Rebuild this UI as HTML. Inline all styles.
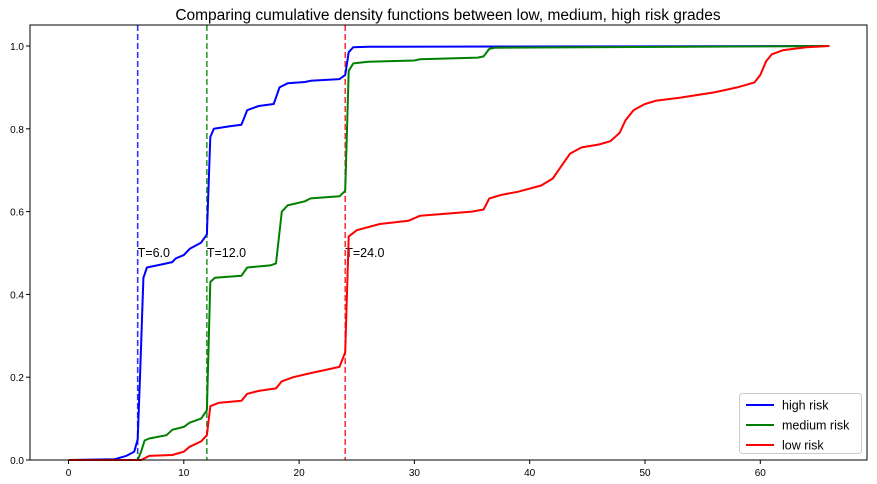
<!DOCTYPE html>
<html><head><meta charset="utf-8"><style>
body{margin:0;background:#fff}
svg{font-family:"Liberation Sans","DejaVu Sans",sans-serif;display:block}
</style></head><body>
<svg id="chart" width="877" height="484"></svg>
<script>
const xTicks=[0,10,20,30,40,50,60];
const yTicks=[0.0,0.2,0.4,0.6,0.8,1.0];
const highX=[0,4,5,5.7,6,6.2,6.5,6.8,8,9,9.3,10,10.5,11.5,12,12.3,12.6,14,15,15.5,16.5,17.8,18.3,19,20.5,21,23.5,24,24.3,24.7,26,66];
const highY=[0,0.002,0.01,0.02,0.05,0.2,0.44,0.465,0.472,0.478,0.487,0.495,0.51,0.525,0.545,0.78,0.8,0.806,0.81,0.845,0.855,0.86,0.9,0.91,0.913,0.916,0.92,0.93,0.985,0.997,0.998,1.0];
const medX=[0,6,6.3,6.6,7,8.5,9,10,10.5,11.5,12,12.3,12.7,15,15.5,17.5,18,18.5,19,20.5,21,23.5,24,24.3,24.7,26,30,30.5,35.5,36,36.5,37,66];
const medY=[0,0,0.02,0.047,0.052,0.06,0.073,0.08,0.09,0.1,0.12,0.43,0.44,0.445,0.465,0.47,0.475,0.6,0.615,0.625,0.632,0.637,0.65,0.94,0.958,0.962,0.965,0.968,0.972,0.975,0.993,0.996,1.0];
const lowX=[0,6.3,7,9,10,10.5,11.5,12,12.3,13,15,15.5,16.5,18,18.5,19.5,21,23.5,24,24.3,25,27,29.5,30.5,35,36,36.5,37.5,39,41,42,42.5,43.5,44.5,46,47,47.8,48.3,49,50,51,53,56,58,59.5,60,60.5,61,62,64,66];
const lowY=[0,0,0.01,0.012,0.02,0.032,0.045,0.06,0.13,0.138,0.143,0.16,0.167,0.173,0.19,0.2,0.21,0.225,0.26,0.54,0.555,0.57,0.578,0.59,0.6,0.605,0.632,0.64,0.648,0.663,0.68,0.7,0.74,0.755,0.762,0.77,0.79,0.82,0.845,0.86,0.868,0.875,0.888,0.9,0.912,0.93,0.963,0.98,0.99,0.997,1.0];
const thresholds=[6,12,24];
const thrLabels=["T=6.0","T=12.0","T=24.0"];
const colors=["#0000ff","#008000","#ff0000"];
const threshColors=["#3333ff","#339933","#ff3333"];
const legendLabels=["high risk","medium risk","low risk"];

const L=30,R=867,T=25,B=460;
const xs=v=>68.5+v*11.53;
const ys=v=>460-v*414;
const svg=document.getElementById('chart');
const NS='http://www.w3.org/2000/svg';
function mk(t,a,p){const e=document.createElementNS(NS,t);for(const k in a)e.setAttribute(k,a[k]);(p||svg).appendChild(e);return e;}

const title=mk('text',{x:448,y:20,'text-anchor':'middle','font-size':15.5,fill:'#000'});
title.textContent='Comparing cumulative density functions between low, medium, high risk grades';



xTicks.forEach(v=>{
  const x=xs(v);
  const tk=mk('line',{x1:x,x2:x,y1:B,y2:B+4,stroke:'#000'});
  
  
  const t=mk('text',{x:x,y:B+16,'text-anchor':'middle','font-size':10,fill:'#000'});
  t.textContent=v;
  
  
});
yTicks.forEach(v=>{
  const y=ys(v);
  const tk=mk('line',{x1:L-4,x2:L,y1:y,y2:y,stroke:'#000'});
  
  
  const t=mk('text',{x:L-6,y:y+4,'text-anchor':'end','font-size':10,fill:'#000'});
  t.textContent=v.toFixed(1);
  
  
});

thresholds.forEach((v,i)=>{
  const x=xs(v);
  const l=mk('line',{x1:x,x2:x,y1:T,y2:B,stroke:threshColors[i],'stroke-width':1.6,'stroke-dasharray':'6,3'});
  
  
  const t=mk('text',{x:x,y:ys(0.5)+4,'font-size':12.5,fill:'#000'});
  t.textContent=thrLabels[i];
  
  
});

[[highX,highY],[medX,medY],[lowX,lowY]].forEach((s,i)=>{
  const d=s[0].map((x,j)=>(j?'L':'M')+xs(x).toFixed(1)+','+ys(s[1][j]).toFixed(1)).join(' ');
  const p=mk('path',{d:d,fill:'none',stroke:colors[i],'stroke-width':2,'stroke-linejoin':'round'});
  
  
});

const frame=mk('rect',{x:L,y:T,width:R-L,height:B-T,fill:'none',stroke:'#000','stroke-width':1});



const lg=mk('g',{});


mk('rect',{x:739.5,y:393.5,width:122,height:60,rx:3,fill:'#fff',stroke:'#ccc'},lg);
legendLabels.forEach((lab,i)=>{
  const y=405+i*20;
  const ln=mk('line',{x1:746,x2:774,y1:y,y2:y,stroke:colors[i],'stroke-width':2},lg);
  
  
  const t=mk('text',{x:782,y:y+4.5,'font-size':12.5,fill:'#000'},lg);
  t.textContent=lab;
  
  
});
</script>
</body></html>
